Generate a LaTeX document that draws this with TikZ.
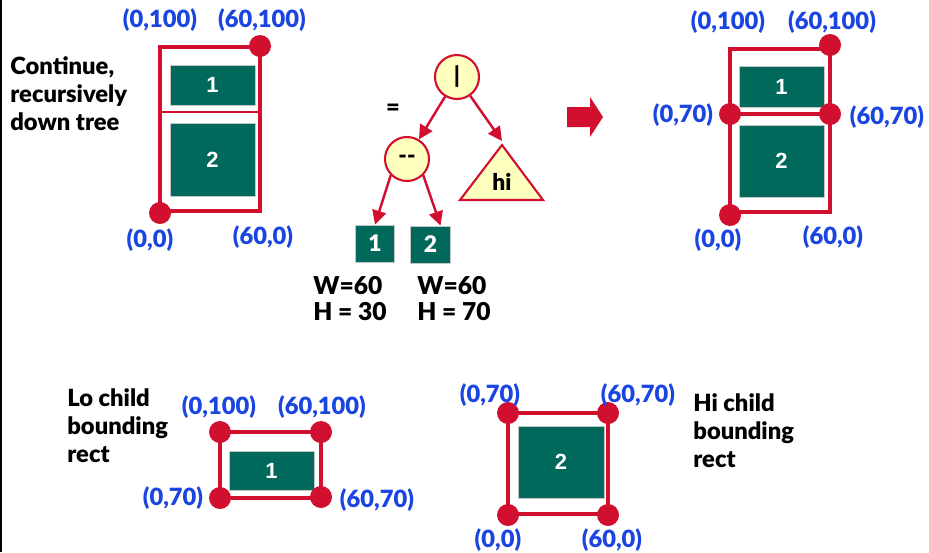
\documentclass[tikz,border=0pt]{standalone}
\usepackage{fontspec}
\setmainfont{Lato}[BoldFont={Lato Black}]
\newfontfamily\digitfont{Liberation Sans}
\usetikzlibrary{arrows.meta}
\definecolor{slidered}{HTML}{D11030}
\definecolor{slideblue}{HTML}{1A45E0}
\definecolor{slidegreen}{HTML}{00695C}
\definecolor{slideyellow}{HTML}{FFFFC0}

\begin{document}
\begin{tikzpicture}[x=0.02cm, y=-0.02cm,
    frame/.style={draw=slidered, line width=2.8pt},
    dot/.style={circle, fill=slidered, inner sep=0pt, minimum size=0.44cm},
    gbox/.style={rectangle, fill=slidegreen, draw=gray!45, line width=0.5pt, inner sep=0pt,
      text=white, font=\digitfont\bfseries\fontsize{12.5}{14}\selectfont},
    tbox/.style={gbox, font=\bfseries\fontsize{13}{15}\selectfont,
      minimum width=0.79cm, minimum height=0.74cm},
    coord/.style={text=slideblue, inner sep=0pt, font=\bfseries\fontsize{13.5}{15}\selectfont},
    note/.style={align=left, anchor=north west, inner sep=0pt,
      font=\bfseries\fontsize{13.5}{16}\selectfont},
    op/.style={circle, draw=slidered, line width=1.2pt, fill=slideyellow, inner sep=0pt,
      minimum size=0.88cm, font=\bfseries\fontsize{13}{15}\selectfont},
    arr/.style={draw=slidered, line width=1.4pt, -{Triangle[length=8pt, width=8pt]}},
  ]
  \useasboundingbox (0,0) rectangle (929,552);
  \draw[black, line width=1.1pt] (1,0) -- (1,552);

  % ---- panel 1: whole bounding rect
  \draw[frame] (160,47) rectangle (260,211);
  \draw[slidered, line width=0.9pt] (160,112) -- (260,112);
  \node[gbox, minimum width=1.7cm, minimum height=0.8cm]  (p1one) at (212.5,85)    {1};
  \node[gbox, minimum width=1.7cm, minimum height=1.46cm] (p1two) at (212.5,159.5) {2};
  \node[dot] (p1tr) at (260,46)  {};
  \node[dot] (p1bl) at (160,213) {};
  \node[coord] (p1l1) at (160,20)  {(0,100)};
  \node[coord] (p1l2) at (262,20)  {(60,100)};
  \node[coord] (p1l3) at (150,240) {(0,0)};
  \node[coord] (p1l4) at (263,237) {(60,0)};
  \node[note] (cont) at (10,56) {Continue,\\recursively\\down tree};

  % ---- the tree
  \node[note, anchor=center] (eq) at (393,110) {=};
  \node[op] (root) at (457,77)  {|};
  \node[op] (cat)  at (407,159) {-{}-};
  \draw[slidered, line width=1.2pt, fill=slideyellow] (502,145) -- (543,200) -- (460,200) -- cycle;
  \coordinate (hitop) at (502,141);
  \node[font=\bfseries\fontsize{13}{15}\selectfont] (hi) at (502,182) {hi};
  \node[tbox] (t1) at (375,243.5)   {1};
  \node[tbox] (t2) at (430.5,244.5) {2};
  \draw[arr] (root) -- (cat);
  \draw[arr] (root) -- (hitop);
  \draw[arr] (cat.-135) -- (t1.north);
  \draw[arr] (cat.-45) -- ([xshift=0.2cm]t2.north);
  \node[note, font=\bfseries\fontsize{14}{15}\selectfont] (wh1) at (313,276) {W=60\\H = 30};
  \node[note, font=\bfseries\fontsize{14}{15}\selectfont] (wh2) at (417,276) {W=60\\H = 70};

  % ---- big arrow
  \fill[slidered] (567,107) -- (590,107) -- (590,97) -- (603,117) -- (590,137)
    -- (590,127) -- (567,127) -- cycle;

  % ---- panel 3: split rect
  \draw[frame] (730,49) rectangle (830,212);
  \draw[frame] (730,114) -- (830,114);
  \node[gbox, minimum width=1.7cm, minimum height=0.82cm] (p3one) at (781.5,86.5) {1};
  \node[gbox, minimum width=1.7cm, minimum height=1.44cm] (p3two) at (781.5,161)  {2};
  \node[dot] (p3tr) at (830,45)  {};
  \node[dot] (p3ml) at (730,114) {};
  \node[dot] (p3mr) at (830,114) {};
  \node[dot] (p3bl) at (730,215) {};
  \node[coord] (p3l1) at (728,22)  {(0,100)};
  \node[coord] (p3l2) at (832,22)  {(60,100)};
  \node[coord] (p3l3) at (683,115) {(0,70)};
  \node[coord] (p3l4) at (887,117) {(60,70)};
  \node[coord] (p3l5) at (718,240) {(0,0)};
  \node[coord] (p3l6) at (833,237) {(60,0)};

  % ---- panel 4: lo child
  \node[note] (lo) at (67,388) {Lo child\\bounding\\rect};
  \draw[frame] (220,432) rectangle (321,498);
  \node[gbox, minimum width=1.7cm, minimum height=0.78cm] (p4one) at (271.5,470.5) {1};
  \node[dot] (p4tl) at (220,432) {};
  \node[dot] (p4tr) at (321,432) {};
  \node[dot] (p4bl) at (220,498) {};
  \node[dot] (p4br) at (321,497) {};
  \node[coord] (p4l1) at (219,407) {(0,100)};
  \node[coord] (p4l2) at (322,407) {(60,100)};
  \node[coord] (p4l3) at (173,498) {(0,70)};
  \node[coord] (p4l4) at (377,500) {(60,70)};

  % ---- panel 5: hi child
  \draw[frame] (508,413) rectangle (608,514);
  \node[gbox, minimum width=1.72cm, minimum height=1.44cm] (p5two) at (561,462) {2};
  \node[dot] (p5tl) at (508,413) {};
  \node[dot] (p5tr) at (608,413) {};
  \node[dot] (p5bl) at (508,515) {};
  \node[dot] (p5br) at (608,515) {};
  \node[coord] (p5l1) at (490,395) {(0,70)};
  \node[coord] (p5l2) at (638,395) {(60,70)};
  \node[coord] (p5l3) at (498,540) {(0,0)};
  \node[coord] (p5l4) at (612,540) {(60,0)};
  \node[note] (hichild) at (693,393) {Hi child\\bounding\\rect};
\end{tikzpicture}
\end{document}
